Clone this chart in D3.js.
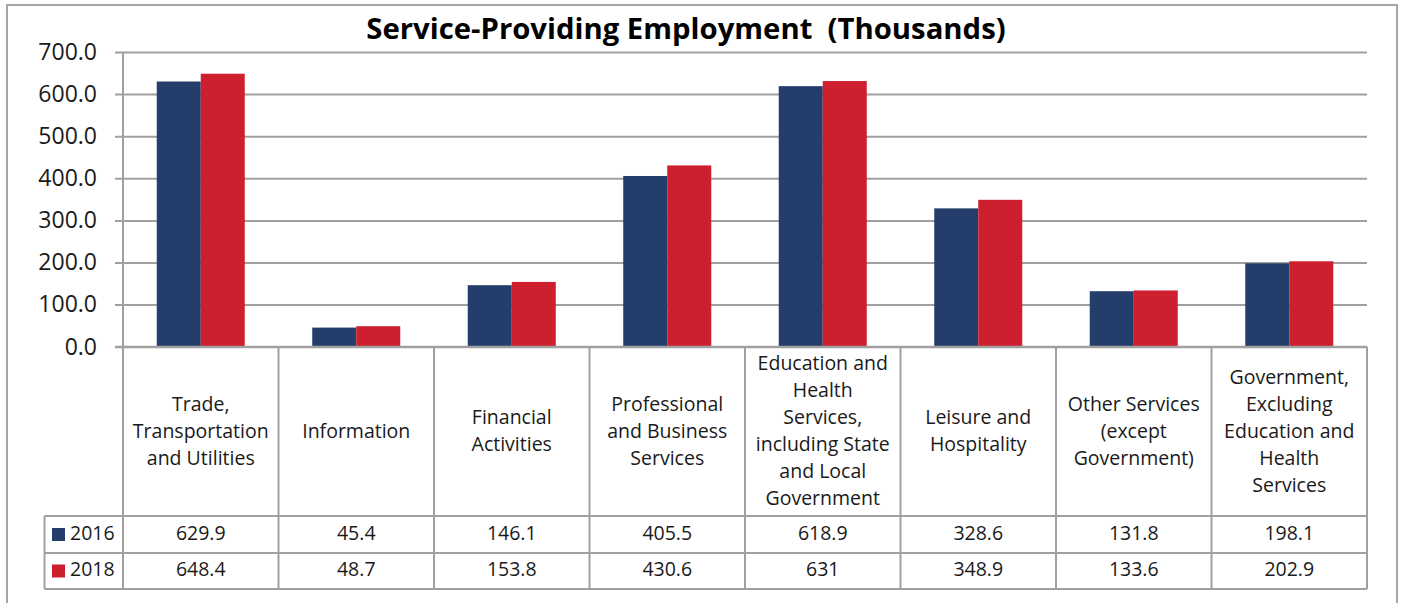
<!DOCTYPE html>
<html>
<head>
<meta charset="utf-8">
<script src="https://cdn.jsdelivr.net/npm/d3@7"></script>
<style>
  html, body { margin: 0; padding: 0; background: #fff; }
  svg text { font-family: "Open Sans", "Noto Sans", sans-serif; fill: #1a1a1a; }
</style>
</head>
<body>
<svg id="chart" width="1402" height="603"></svg>
<script>
// Service-providing employment by sector, in thousands
const categories = [
  ["Trade,", "Transportation", "and Utilities"],
  ["Information"],
  ["Financial", "Activities"],
  ["Professional", "and Business", "Services"],
  ["Education and", "Health", "Services,", "including State", "and Local", "Government"],
  ["Leisure and", "Hospitality"],
  ["Other Services", "(except", "Government)"],
  ["Government,", "Excluding", "Education and", "Health", "Services"]
];
const seriesNames = ["2016", "2018"];
const values2016 = [629.9, 45.4, 146.1, 405.5, 618.9, 328.6, 131.8, 198.1];
const values2018 = [648.4, 48.7, 153.8, 430.6, 631, 348.9, 133.6, 202.9];
const tableLabels2016 = ["629.9", "45.4", "146.1", "405.5", "618.9", "328.6", "131.8", "198.1"];
const tableLabels2018 = ["648.4", "48.7", "153.8", "430.6", "631", "348.9", "133.6", "202.9"];
const yTicks = [0, 100, 200, 300, 400, 500, 600, 700];
const title = "Service-Providing Employment  (Thousands)";

const colors = { "2016": "#253d6b", "2018": "#cd1f2e" };
const gridColor = "#a0a0a0";

const svg = d3.select("#chart");

// outer frame
svg.append("rect")
  .attr("x", 7).attr("y", 5).attr("width", 1390).attr("height", 620)
  .attr("fill", "none").attr("stroke", "#a6a6a6").attr("stroke-width", 2);

const plot = { left: 123, right: 1367, top: 52, bottom: 346.7 };
const headerBottom = 516, row1Bottom = 553, row2Bottom = 589, legendLeft = 44.5;

const idx = d3.range(categories.length);
const x = d3.scaleBand().domain(idx).range([plot.left, plot.right])
  .paddingInner(0.434).paddingOuter(0.217);
const xs = d3.scaleBand().domain(seriesNames).range([0, x.bandwidth()]);
const y = d3.scaleLinear().domain([0, 700]).range([plot.bottom, plot.top]);

// title
svg.append("text")
  .attr("x", 686).attr("y", 31)
  .attr("text-anchor", "middle").attr("dominant-baseline", "middle")
  .style("white-space", "pre")
  .attr("font-size", 29.3).attr("font-weight", 700).style("fill", "#000")
  .text(title);

// y axis with gridlines
const yAxis = d3.axisLeft(y).tickValues(yTicks)
  .tickFormat(d3.format(".1f"))
  .tickSize(-(plot.right - plot.left)).tickPadding(26);
const gy = svg.append("g").attr("transform", `translate(${plot.left},0)`).call(yAxis);
gy.select(".domain").remove();
gy.selectAll(".tick line")
  .attr("x1", -8).attr("stroke", gridColor).attr("stroke-width", 2);
gy.selectAll(".tick text")
  .attr("font-size", 23).style("font-family", '"Open Sans", sans-serif').style("fill", "#1a1a1a");

// bars
const series = [
  { name: "2016", values: values2016 },
  { name: "2018", values: values2018 }
];
const barG = svg.append("g");
series.forEach(s => {
  barG.selectAll(null).data(s.values).enter().append("rect")
    .attr("x", (d, i) => x(i) + xs(s.name))
    .attr("y", d => y(d))
    .attr("width", xs.bandwidth())
    .attr("height", d => y(0) - y(d))
    .attr("fill", colors[s.name]);
});

// data table grid
const lineStyle = sel => sel.attr("stroke", gridColor).attr("stroke-width", 2);
const step = x.step();
const boundaries = d3.range(categories.length + 1).map(i => plot.left + i * step);

// vertical axis line through plot and table
svg.append("line").attr("x1", plot.left).attr("x2", plot.left)
  .attr("y1", plot.top).attr("y2", row2Bottom).call(lineStyle);
// category dividers and right edge
boundaries.slice(1).forEach(bx => {
  svg.append("line").attr("x1", bx).attr("x2", bx)
    .attr("y1", plot.bottom).attr("y2", row2Bottom).call(lineStyle);
});
// horizontal table lines
[headerBottom, row1Bottom, row2Bottom].forEach(ly => {
  svg.append("line").attr("x1", legendLeft).attr("x2", plot.right)
    .attr("y1", ly).attr("y2", ly).call(lineStyle);
});
svg.append("line").attr("x1", legendLeft).attr("x2", legendLeft)
  .attr("y1", headerBottom).attr("y2", row2Bottom).call(lineStyle);
// zero line redrawn on top of bars
svg.append("line").attr("x1", plot.left - 8).attr("x2", plot.right)
  .attr("y1", y(0)).attr("y2", y(0)).call(lineStyle);

// category header labels
const lineH = 27;
const headerMid = (plot.bottom + headerBottom) / 2 + 1;
categories.forEach((lines, i) => {
  const cx = x(i) + x.bandwidth() / 2;
  const t = svg.append("text").attr("text-anchor", "middle").attr("font-size", 19.5);
  const y0 = headerMid - (lines.length - 1) * lineH / 2;
  lines.forEach((ln, j) => {
    t.append("tspan").attr("x", cx).attr("y", y0 + j * lineH)
      .attr("dominant-baseline", "middle").text(ln);
  });
});

// table rows: legend key + values
const rows = [
  { name: "2016", labels: tableLabels2016, top: headerBottom, bottom: row1Bottom },
  { name: "2018", labels: tableLabels2018, top: row1Bottom, bottom: row2Bottom }
];
rows.forEach(r => {
  const my = (r.top + r.bottom) / 2;
  svg.append("rect").attr("x", 52).attr("y", my - 6.5).attr("width", 13).attr("height", 13)
    .attr("fill", colors[r.name]);
  svg.append("text").attr("x", 70).attr("y", my).attr("dominant-baseline", "middle")
    .attr("font-size", 19.5).text(r.name);
  r.labels.forEach((lab, i) => {
    svg.append("text").attr("x", x(i) + x.bandwidth() / 2).attr("y", my)
      .attr("text-anchor", "middle").attr("dominant-baseline", "middle")
      .attr("font-size", 19.5).text(lab);
  });
});
</script>
</body>
</html>
